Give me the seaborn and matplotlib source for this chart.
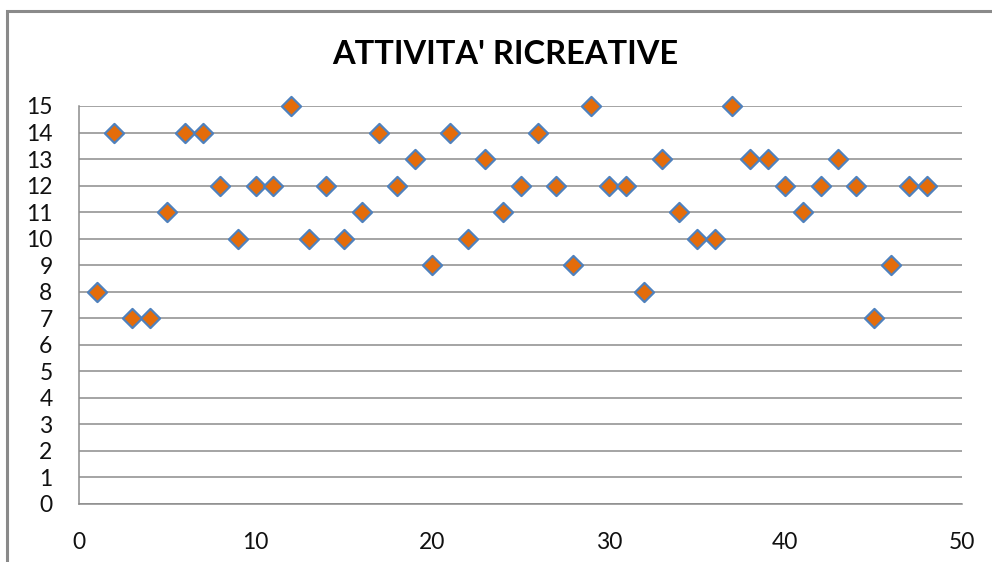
import matplotlib
matplotlib.use("Agg")
import matplotlib.pyplot as plt
import pandas as pd
import seaborn as sns
from matplotlib.patches import Rectangle

# data
giorni = list(range(1, 49))
punteggi = [8, 14, 7, 7, 11, 14, 14, 12, 10, 12, 12, 15, 10, 12, 10, 11,
            14, 12, 13, 9, 14, 10, 13, 11, 12, 14, 12, 9, 15, 12, 12, 8,
            13, 11, 10, 10, 15, 13, 13, 12, 11, 12, 13, 12, 7, 9, 12, 12]
titolo = "ATTIVITA' RICREATIVE"
x_ticks = [0, 10, 20, 30, 40, 50]
y_ticks = list(range(0, 16))

df = pd.DataFrame({"x": giorni, "y": punteggi})

sns.set_style("white")
plt.rcParams["font.family"] = ["Lato", "DejaVu Sans"]

grid_col = "#8c8c8c"
fig = plt.figure(figsize=(9.92, 5.62), dpi=100)
ax = fig.add_axes([79 / 992, 1 - 504 / 562, 883 / 992, 398 / 562])

sns.scatterplot(data=df, x="x", y="y", marker="D", s=95, color="#E46C0A",
                edgecolor="#4F81BD", linewidth=1.6, zorder=3, clip_on=False, ax=ax)

ax.set_xlim(0, 50)
ax.set_ylim(0, 15)
ax.set_xticks(x_ticks)
ax.set_yticks(y_ticks)
ax.set_xlabel("")
ax.set_ylabel("")
ax.yaxis.grid(True, color=grid_col, linewidth=1.1)
ax.set_axisbelow(True)
for side in ["top", "right"]:
    ax.spines[side].set_visible(False)
for side in ["left", "bottom"]:
    ax.spines[side].set_color(grid_col)
    ax.spines[side].set_linewidth(1.1)
ax.tick_params(axis="both", direction="out", length=8, width=1.1, color=grid_col,
               labelsize=16.5, labelcolor="#111111")
ax.tick_params(axis="x", pad=12)
ax.tick_params(axis="y", pad=11)

fig.text(505 / 992, 1 - 54 / 562, titolo, ha="center", va="center",
         fontsize=23.5, fontweight="bold", color="black")

# chart area frame
fig.patches.append(Rectangle((7 / 992, -0.1), 1.2, 1 - 11 / 562 + 0.1,
                             transform=fig.transFigure, fill=False,
                             edgecolor="#8a8a8a", linewidth=2.2))

fig.savefig("out.png", dpi=100)
